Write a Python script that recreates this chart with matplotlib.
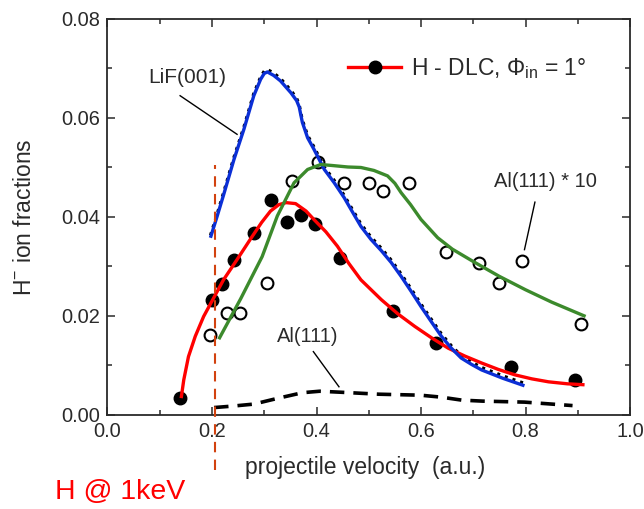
import matplotlib
matplotlib.use("Agg")
import matplotlib.pyplot as plt
from matplotlib.ticker import MultipleLocator, FormatStrFormatter
from matplotlib.lines import Line2D
import matplotlib.transforms as mtransforms

plt.rcParams['font.family'] = ['Liberation Sans', 'DejaVu Sans']
plt.rcParams['mathtext.fontset'] = 'custom'
plt.rcParams['mathtext.rm'] = 'Liberation Sans'
plt.rcParams['mathtext.it'] = 'Liberation Sans:italic'

# H on DLC: measured negative-ion fractions
dlc_v = [0.139, 0.200, 0.219, 0.243, 0.281, 0.313, 0.344, 0.371, 0.397,
         0.445, 0.546, 0.629, 0.773, 0.894]
dlc_f = [0.0034, 0.0233, 0.0265, 0.0314, 0.0368, 0.0435, 0.0389, 0.0405,
         0.0385, 0.0317, 0.0211, 0.0145, 0.0097, 0.0071]

# H on DLC: fitted curve
dlc_fit_v = [0.141, 0.146, 0.155, 0.168, 0.184, 0.203, 0.222, 0.248, 0.274,
             0.295, 0.312, 0.328, 0.342, 0.360, 0.380, 0.395, 0.418, 0.440,
             0.462, 0.485, 0.524, 0.556, 0.588, 0.620, 0.652, 0.684, 0.716,
             0.748, 0.780, 0.812, 0.844, 0.880, 0.913]
dlc_fit_f = [0.0034, 0.0071, 0.0118, 0.0159, 0.0199, 0.0236, 0.0273, 0.0314,
             0.0356, 0.0389, 0.0412, 0.0425, 0.0429, 0.0427, 0.0412, 0.0395,
             0.0370, 0.0341, 0.0306, 0.0273, 0.0233, 0.0204, 0.0179, 0.0156,
             0.0135, 0.0119, 0.0105, 0.0092, 0.0081, 0.0073, 0.0067, 0.0063,
             0.0061]

# LiF(001) reference curve
lif_v = [0.197, 0.210, 0.222, 0.242, 0.261, 0.280, 0.293, 0.300, 0.306,
         0.318, 0.331, 0.351, 0.362, 0.367, 0.370, 0.373, 0.383, 0.395,
         0.415, 0.434, 0.453, 0.470, 0.485, 0.504, 0.524, 0.543, 0.562,
         0.581, 0.600, 0.620, 0.639, 0.658, 0.677, 0.697, 0.716, 0.757,
         0.798]
lif_f = [0.0358, 0.0402, 0.0444, 0.0516, 0.0577, 0.0645, 0.0678, 0.0690,
         0.0693, 0.0686, 0.0675, 0.0651, 0.0635, 0.0622, 0.0606, 0.0591,
         0.0560, 0.0537, 0.0496, 0.0469, 0.0439, 0.0408, 0.0381, 0.0355,
         0.0332, 0.0308, 0.0280, 0.0250, 0.0219, 0.0188, 0.0159, 0.0135,
         0.0115, 0.0102, 0.0091, 0.0074, 0.0059]

# Al(111) scaled by 10: measured points and fitted curve
al10_v = [0.197, 0.229, 0.253, 0.306, 0.354, 0.403, 0.453, 0.500, 0.528,
          0.577, 0.647, 0.711, 0.749, 0.794, 0.906]
al10_f = [0.0162, 0.0206, 0.0206, 0.0267, 0.0472, 0.0511, 0.0469, 0.0468,
          0.0452, 0.0469, 0.0329, 0.0307, 0.0267, 0.0312, 0.0184]
al10_fit_v = [0.213, 0.255, 0.296, 0.325, 0.357, 0.383, 0.408, 0.430, 0.460,
              0.485, 0.510, 0.536, 0.550, 0.562, 0.580, 0.600, 0.632, 0.660,
              0.700, 0.750, 0.800, 0.850, 0.915]
al10_fit_f = [0.0153, 0.0235, 0.0320, 0.0402, 0.0469, 0.0496, 0.0506,
              0.0504, 0.0501, 0.0500, 0.0494, 0.0483, 0.0468, 0.0449,
              0.0425, 0.0395, 0.0358, 0.0335, 0.0310, 0.0280, 0.0253,
              0.0228, 0.0199]

# Al(111) unscaled curve
al_v = [0.204, 0.240, 0.280, 0.327, 0.373, 0.406, 0.446, 0.519, 0.599,
        0.639, 0.678, 0.718, 0.798, 0.890]
al_f = [0.0015, 0.0018, 0.0022, 0.0034, 0.0045, 0.0048, 0.0046, 0.0042,
        0.0040, 0.0036, 0.0030, 0.0028, 0.0026, 0.0019]

# 1 keV H velocity marker
v_1kev = 0.206
marker_span = [-0.0111, 0.0505]

fig = plt.figure(figsize=(6.44, 5.09), dpi=100)
ax = fig.add_axes([0.1669, 0.1847, 0.8114, 0.7780])

RED = '#ff0000'
BLUE = '#0b2fd6'
GREEN = '#3c8a2c'
INK = '#2a2a2a'

# points
ax.plot(dlc_v, dlc_f, 'o', color='black', ms=9, zorder=3)
ax.plot(al10_v, al10_f, 'o', mfc='white', mec='black', mew=1.5, ms=8.5,
        zorder=3)

# LiF data as a dotted trace just above the fitted curve
dot_tr = mtransforms.offset_copy(ax.transData, fig=fig, x=0.0, y=1.8,
                                 units='points')
ax.plot(lif_v, lif_f, ':', color='black', lw=2.2, transform=dot_tr, zorder=4)

# fitted curves
ax.plot(dlc_fit_v, dlc_fit_f, color=RED, lw=2.4, zorder=5,
        solid_capstyle='butt', solid_joinstyle='round')
ax.plot(lif_v, lif_f, color=BLUE, lw=2.4, zorder=5, solid_capstyle='butt',
        solid_joinstyle='round')
ax.plot(al10_fit_v, al10_fit_f, color=GREEN, lw=2.4, zorder=5,
        solid_capstyle='butt', solid_joinstyle='round')
ax.plot(al_v, al_f, color='black', lw=2.6, dashes=(4, 2.5), zorder=5)

# 1 keV marker
ax.plot([v_1kev, v_1kev], marker_span, color='#d2420f', lw=1.5,
        dashes=(5, 3.5), clip_on=False, zorder=6)

# annotations
ax.text(0.152, 0.0682, 'LiF(001)', fontsize=15, ha='center', va='center',
        color=INK)
ax.plot([0.139, 0.248], [0.0645, 0.0567], color='black', lw=1.0, zorder=6)
ax.text(0.384, 0.0158, 'Al(111)', fontsize=14.5, ha='center', va='center',
        color=INK)
ax.plot([0.394, 0.443], [0.0128, 0.0057], color='black', lw=1.0, zorder=6)
ax.text(0.839, 0.0472, 'Al(111) * 10', fontsize=14.5, ha='center',
        va='center', color=INK)
ax.plot([0.818, 0.798], [0.0430, 0.0334], color='black', lw=1.0, zorder=6)

# legend
handle = Line2D([], [], color=RED, lw=2.4, marker='o', mfc='black',
                mec='black', ms=9)
leg = ax.legend([handle], ['H - DLC, Φ$_{\\mathrm{in}}$ = 1°'],
                loc='center left', bbox_to_anchor=(0.461, 0.874),
                frameon=False, fontsize=16.5, handlelength=2.3,
                handletextpad=0.45, numpoints=1, borderpad=0.0,
                borderaxespad=0.0)
for t in leg.get_texts():
    t.set_color(INK)

# axes
ax.set_xlim(0.0, 1.0)
ax.set_ylim(0.0, 0.08)
ax.xaxis.set_major_locator(MultipleLocator(0.2))
ax.xaxis.set_minor_locator(MultipleLocator(0.1))
ax.yaxis.set_major_locator(MultipleLocator(0.02))
ax.yaxis.set_minor_locator(MultipleLocator(0.01))
ax.xaxis.set_major_formatter(FormatStrFormatter('%.1f'))
ax.yaxis.set_major_formatter(FormatStrFormatter('%.2f'))
ax.tick_params(which='both', direction='in', top=True, right=True,
               width=1.1, colors=INK, labelsize=14.4)
ax.tick_params(which='major', length=6, pad=5)
ax.tick_params(which='minor', length=3.5)
for s in ax.spines.values():
    s.set_linewidth(1.3)
    s.set_color(INK)

ax.set_xlabel('projectile velocity  (a.u.)', fontsize=16.5, color=INK)
ax.xaxis.set_label_coords(0.493, -0.1335)
ax.xaxis.label.set_va('center')
ax.set_ylabel('H$^{-}$ ion fractions', fontsize=16.5, color=INK)
ax.yaxis.set_label_coords(-0.158, 0.5)
ax.yaxis.label.set_va('center')

fig.text(55 / 644, (509 - 492) / 509, 'H @ 1keV', color=RED, fontsize=20.5,
         ha='left', va='center')

fig.savefig('out.png', dpi=100)
